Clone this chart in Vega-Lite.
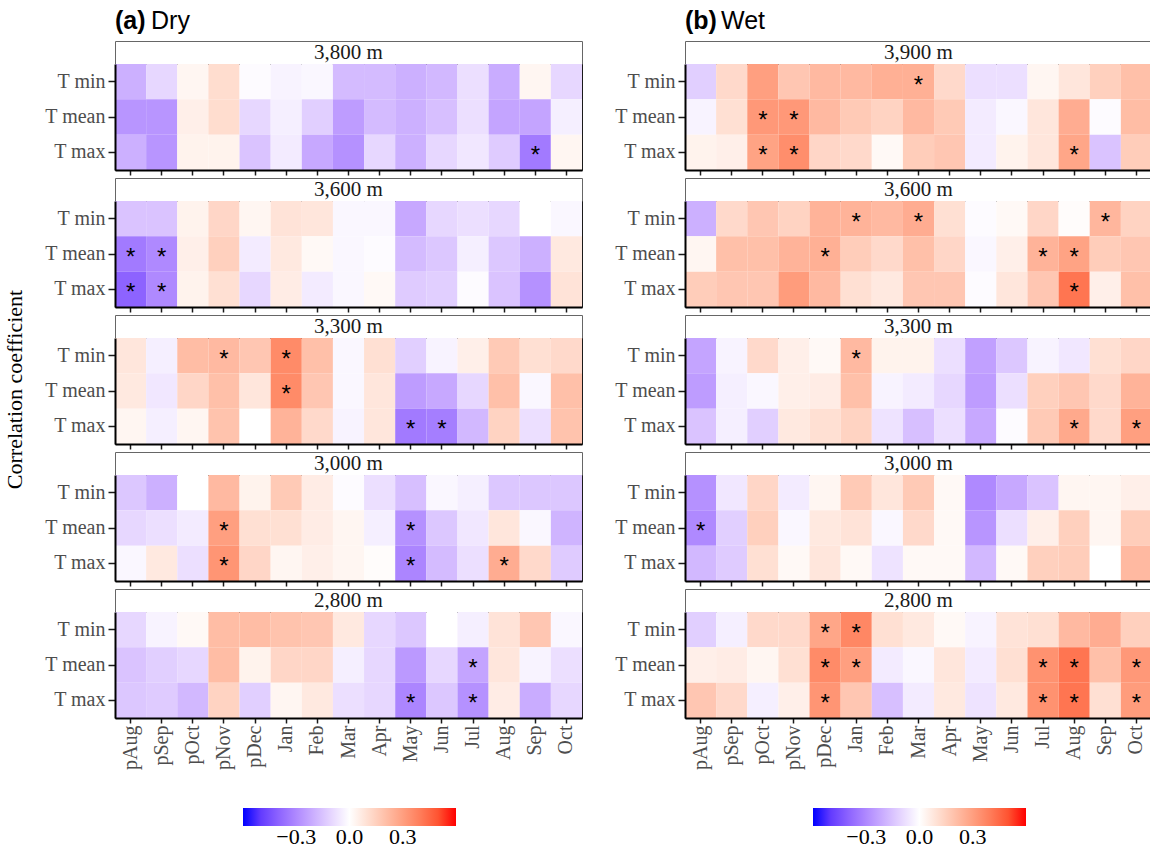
{
"$schema":"https://vega.github.io/schema/vega-lite/v6.json",
"padding":{"left":3,"top":8,"right":0,"bottom":0},
"background":"white",
"datasets":{
"strips":[
{"c":"Dry","e":"3,800 m"},{"c":"Dry","e":"3,600 m"},{"c":"Dry","e":"3,300 m"},{"c":"Dry","e":"3,000 m"},{"c":"Dry","e":"2,800 m"},
{"c":"Wet","e":"3,900 m"},{"c":"Wet","e":"3,600 m"},{"c":"Wet","e":"3,300 m"},{"c":"Wet","e":"3,000 m"},{"c":"Wet","e":"2,800 m"}],
"stars":[
{"c":"Dry","e":"3,800 m","v":"T max","m":"Sep"},
{"c":"Dry","e":"3,600 m","v":"T mean","m":"pAug"},{"c":"Dry","e":"3,600 m","v":"T mean","m":"pSep"},{"c":"Dry","e":"3,600 m","v":"T max","m":"pAug"},{"c":"Dry","e":"3,600 m","v":"T max","m":"pSep"},
{"c":"Dry","e":"3,300 m","v":"T min","m":"pNov"},{"c":"Dry","e":"3,300 m","v":"T min","m":"Jan"},{"c":"Dry","e":"3,300 m","v":"T mean","m":"Jan"},{"c":"Dry","e":"3,300 m","v":"T max","m":"May"},{"c":"Dry","e":"3,300 m","v":"T max","m":"Jun"},
{"c":"Dry","e":"3,000 m","v":"T mean","m":"pNov"},{"c":"Dry","e":"3,000 m","v":"T mean","m":"May"},{"c":"Dry","e":"3,000 m","v":"T max","m":"pNov"},{"c":"Dry","e":"3,000 m","v":"T max","m":"May"},{"c":"Dry","e":"3,000 m","v":"T max","m":"Aug"},
{"c":"Dry","e":"2,800 m","v":"T mean","m":"Jul"},{"c":"Dry","e":"2,800 m","v":"T max","m":"May"},{"c":"Dry","e":"2,800 m","v":"T max","m":"Jul"},
{"c":"Wet","e":"3,900 m","v":"T min","m":"Mar"},{"c":"Wet","e":"3,900 m","v":"T mean","m":"pOct"},{"c":"Wet","e":"3,900 m","v":"T mean","m":"pNov"},{"c":"Wet","e":"3,900 m","v":"T max","m":"pOct"},{"c":"Wet","e":"3,900 m","v":"T max","m":"pNov"},{"c":"Wet","e":"3,900 m","v":"T max","m":"Aug"},
{"c":"Wet","e":"3,600 m","v":"T min","m":"Jan"},{"c":"Wet","e":"3,600 m","v":"T min","m":"Mar"},{"c":"Wet","e":"3,600 m","v":"T min","m":"Sep"},{"c":"Wet","e":"3,600 m","v":"T mean","m":"pDec"},{"c":"Wet","e":"3,600 m","v":"T mean","m":"Jul"},{"c":"Wet","e":"3,600 m","v":"T mean","m":"Aug"},{"c":"Wet","e":"3,600 m","v":"T max","m":"Aug"},
{"c":"Wet","e":"3,300 m","v":"T min","m":"Jan"},{"c":"Wet","e":"3,300 m","v":"T max","m":"Aug"},{"c":"Wet","e":"3,300 m","v":"T max","m":"Oct"},
{"c":"Wet","e":"3,000 m","v":"T mean","m":"pAug"},
{"c":"Wet","e":"2,800 m","v":"T min","m":"pDec"},{"c":"Wet","e":"2,800 m","v":"T min","m":"Jan"},{"c":"Wet","e":"2,800 m","v":"T mean","m":"pDec"},{"c":"Wet","e":"2,800 m","v":"T mean","m":"Jan"},{"c":"Wet","e":"2,800 m","v":"T mean","m":"Jul"},{"c":"Wet","e":"2,800 m","v":"T mean","m":"Aug"},{"c":"Wet","e":"2,800 m","v":"T mean","m":"Oct"},{"c":"Wet","e":"2,800 m","v":"T max","m":"pDec"},{"c":"Wet","e":"2,800 m","v":"T max","m":"Jul"},{"c":"Wet","e":"2,800 m","v":"T max","m":"Aug"},{"c":"Wet","e":"2,800 m","v":"T max","m":"Oct"}],
"cells":[
{"c":"Dry","e":"3,800 m","v":"T min","m":"pAug","r":-0.20},{"c":"Dry","e":"3,800 m","v":"T min","m":"pSep","r":-0.10},{"c":"Dry","e":"3,800 m","v":"T min","m":"pOct","r":0.03},{"c":"Dry","e":"3,800 m","v":"T min","m":"pNov","r":0.11},{"c":"Dry","e":"3,800 m","v":"T min","m":"pDec","r":-0.01},{"c":"Dry","e":"3,800 m","v":"T min","m":"Jan","r":-0.03},{"c":"Dry","e":"3,800 m","v":"T min","m":"Feb","r":-0.02},{"c":"Dry","e":"3,800 m","v":"T min","m":"Mar","r":-0.17},{"c":"Dry","e":"3,800 m","v":"T min","m":"Apr","r":-0.17},{"c":"Dry","e":"3,800 m","v":"T min","m":"May","r":-0.20},{"c":"Dry","e":"3,800 m","v":"T min","m":"Jun","r":-0.18},{"c":"Dry","e":"3,800 m","v":"T min","m":"Jul","r":-0.08},{"c":"Dry","e":"3,800 m","v":"T min","m":"Aug","r":-0.21},{"c":"Dry","e":"3,800 m","v":"T min","m":"Sep","r":0.03},{"c":"Dry","e":"3,800 m","v":"T min","m":"Oct","r":-0.10},
{"c":"Dry","e":"3,800 m","v":"T mean","m":"pAug","r":-0.27},{"c":"Dry","e":"3,800 m","v":"T mean","m":"pSep","r":-0.27},{"c":"Dry","e":"3,800 m","v":"T mean","m":"pOct","r":0.05},{"c":"Dry","e":"3,800 m","v":"T mean","m":"pNov","r":0.11},{"c":"Dry","e":"3,800 m","v":"T mean","m":"pDec","r":-0.10},{"c":"Dry","e":"3,800 m","v":"T mean","m":"Jan","r":-0.04},{"c":"Dry","e":"3,800 m","v":"T mean","m":"Feb","r":-0.12},{"c":"Dry","e":"3,800 m","v":"T mean","m":"Mar","r":-0.25},{"c":"Dry","e":"3,800 m","v":"T mean","m":"Apr","r":-0.17},{"c":"Dry","e":"3,800 m","v":"T mean","m":"May","r":-0.20},{"c":"Dry","e":"3,800 m","v":"T mean","m":"Jun","r":-0.16},{"c":"Dry","e":"3,800 m","v":"T mean","m":"Jul","r":-0.08},{"c":"Dry","e":"3,800 m","v":"T mean","m":"Aug","r":-0.23},{"c":"Dry","e":"3,800 m","v":"T mean","m":"Sep","r":-0.23},{"c":"Dry","e":"3,800 m","v":"T mean","m":"Oct","r":-0.04},
{"c":"Dry","e":"3,800 m","v":"T max","m":"pAug","r":-0.20},{"c":"Dry","e":"3,800 m","v":"T max","m":"pSep","r":-0.27},{"c":"Dry","e":"3,800 m","v":"T max","m":"pOct","r":0.04},{"c":"Dry","e":"3,800 m","v":"T max","m":"pNov","r":0.04},{"c":"Dry","e":"3,800 m","v":"T max","m":"pDec","r":-0.15},{"c":"Dry","e":"3,800 m","v":"T max","m":"Jan","r":-0.05},{"c":"Dry","e":"3,800 m","v":"T max","m":"Feb","r":-0.22},{"c":"Dry","e":"3,800 m","v":"T max","m":"Mar","r":-0.28},{"c":"Dry","e":"3,800 m","v":"T max","m":"Apr","r":-0.10},{"c":"Dry","e":"3,800 m","v":"T max","m":"May","r":-0.20},{"c":"Dry","e":"3,800 m","v":"T max","m":"Jun","r":-0.10},{"c":"Dry","e":"3,800 m","v":"T max","m":"Jul","r":-0.06},{"c":"Dry","e":"3,800 m","v":"T max","m":"Aug","r":-0.13},{"c":"Dry","e":"3,800 m","v":"T max","m":"Sep","r":-0.34},{"c":"Dry","e":"3,800 m","v":"T max","m":"Oct","r":0.03},
{"c":"Dry","e":"3,600 m","v":"T min","m":"pAug","r":-0.15},{"c":"Dry","e":"3,600 m","v":"T min","m":"pSep","r":-0.15},{"c":"Dry","e":"3,600 m","v":"T min","m":"pOct","r":0.04},{"c":"Dry","e":"3,600 m","v":"T min","m":"pNov","r":0.13},{"c":"Dry","e":"3,600 m","v":"T min","m":"pDec","r":0.03},{"c":"Dry","e":"3,600 m","v":"T min","m":"Jan","r":0.09},{"c":"Dry","e":"3,600 m","v":"T min","m":"Feb","r":0.08},{"c":"Dry","e":"3,600 m","v":"T min","m":"Mar","r":-0.02},{"c":"Dry","e":"3,600 m","v":"T min","m":"Apr","r":-0.02},{"c":"Dry","e":"3,600 m","v":"T min","m":"May","r":-0.22},{"c":"Dry","e":"3,600 m","v":"T min","m":"Jun","r":-0.10},{"c":"Dry","e":"3,600 m","v":"T min","m":"Jul","r":-0.08},{"c":"Dry","e":"3,600 m","v":"T min","m":"Aug","r":-0.10},{"c":"Dry","e":"3,600 m","v":"T min","m":"Sep","r":0.00},{"c":"Dry","e":"3,600 m","v":"T min","m":"Oct","r":-0.02},
{"c":"Dry","e":"3,600 m","v":"T mean","m":"pAug","r":-0.34},{"c":"Dry","e":"3,600 m","v":"T mean","m":"pSep","r":-0.30},{"c":"Dry","e":"3,600 m","v":"T mean","m":"pOct","r":0.05},{"c":"Dry","e":"3,600 m","v":"T mean","m":"pNov","r":0.15},{"c":"Dry","e":"3,600 m","v":"T mean","m":"pDec","r":-0.05},{"c":"Dry","e":"3,600 m","v":"T mean","m":"Jan","r":0.07},{"c":"Dry","e":"3,600 m","v":"T mean","m":"Feb","r":0.02},{"c":"Dry","e":"3,600 m","v":"T mean","m":"Mar","r":-0.02},{"c":"Dry","e":"3,600 m","v":"T mean","m":"Apr","r":-0.01},{"c":"Dry","e":"3,600 m","v":"T mean","m":"May","r":-0.17},{"c":"Dry","e":"3,600 m","v":"T mean","m":"Jun","r":-0.14},{"c":"Dry","e":"3,600 m","v":"T mean","m":"Jul","r":-0.04},{"c":"Dry","e":"3,600 m","v":"T mean","m":"Aug","r":-0.14},{"c":"Dry","e":"3,600 m","v":"T mean","m":"Sep","r":-0.20},{"c":"Dry","e":"3,600 m","v":"T mean","m":"Oct","r":0.07},
{"c":"Dry","e":"3,600 m","v":"T max","m":"pAug","r":-0.40},{"c":"Dry","e":"3,600 m","v":"T max","m":"pSep","r":-0.30},{"c":"Dry","e":"3,600 m","v":"T max","m":"pOct","r":0.04},{"c":"Dry","e":"3,600 m","v":"T max","m":"pNov","r":0.10},{"c":"Dry","e":"3,600 m","v":"T max","m":"pDec","r":-0.10},{"c":"Dry","e":"3,600 m","v":"T max","m":"Jan","r":0.06},{"c":"Dry","e":"3,600 m","v":"T max","m":"Feb","r":-0.05},{"c":"Dry","e":"3,600 m","v":"T max","m":"Mar","r":-0.02},{"c":"Dry","e":"3,600 m","v":"T max","m":"Apr","r":0.02},{"c":"Dry","e":"3,600 m","v":"T max","m":"May","r":-0.13},{"c":"Dry","e":"3,600 m","v":"T max","m":"Jun","r":-0.12},{"c":"Dry","e":"3,600 m","v":"T max","m":"Jul","r":-0.01},{"c":"Dry","e":"3,600 m","v":"T max","m":"Aug","r":-0.15},{"c":"Dry","e":"3,600 m","v":"T max","m":"Sep","r":-0.28},{"c":"Dry","e":"3,600 m","v":"T max","m":"Oct","r":0.09},
{"c":"Dry","e":"3,300 m","v":"T min","m":"pAug","r":0.08},{"c":"Dry","e":"3,300 m","v":"T min","m":"pSep","r":-0.04},{"c":"Dry","e":"3,300 m","v":"T min","m":"pOct","r":0.21},{"c":"Dry","e":"3,300 m","v":"T min","m":"pNov","r":0.22},{"c":"Dry","e":"3,300 m","v":"T min","m":"pDec","r":0.18},{"c":"Dry","e":"3,300 m","v":"T min","m":"Jan","r":0.36},{"c":"Dry","e":"3,300 m","v":"T min","m":"Feb","r":0.20},{"c":"Dry","e":"3,300 m","v":"T min","m":"Mar","r":-0.02},{"c":"Dry","e":"3,300 m","v":"T min","m":"Apr","r":0.10},{"c":"Dry","e":"3,300 m","v":"T min","m":"May","r":-0.12},{"c":"Dry","e":"3,300 m","v":"T min","m":"Jun","r":-0.03},{"c":"Dry","e":"3,300 m","v":"T min","m":"Jul","r":0.05},{"c":"Dry","e":"3,300 m","v":"T min","m":"Aug","r":0.17},{"c":"Dry","e":"3,300 m","v":"T min","m":"Sep","r":0.10},{"c":"Dry","e":"3,300 m","v":"T min","m":"Oct","r":0.12},
{"c":"Dry","e":"3,300 m","v":"T mean","m":"pAug","r":0.07},{"c":"Dry","e":"3,300 m","v":"T mean","m":"pSep","r":-0.06},{"c":"Dry","e":"3,300 m","v":"T mean","m":"pOct","r":0.13},{"c":"Dry","e":"3,300 m","v":"T mean","m":"pNov","r":0.20},{"c":"Dry","e":"3,300 m","v":"T mean","m":"pDec","r":0.08},{"c":"Dry","e":"3,300 m","v":"T mean","m":"Jan","r":0.36},{"c":"Dry","e":"3,300 m","v":"T mean","m":"Feb","r":0.18},{"c":"Dry","e":"3,300 m","v":"T mean","m":"Mar","r":-0.02},{"c":"Dry","e":"3,300 m","v":"T mean","m":"Apr","r":0.08},{"c":"Dry","e":"3,300 m","v":"T mean","m":"May","r":-0.25},{"c":"Dry","e":"3,300 m","v":"T mean","m":"Jun","r":-0.22},{"c":"Dry","e":"3,300 m","v":"T mean","m":"Jul","r":-0.10},{"c":"Dry","e":"3,300 m","v":"T mean","m":"Aug","r":0.20},{"c":"Dry","e":"3,300 m","v":"T mean","m":"Sep","r":-0.02},{"c":"Dry","e":"3,300 m","v":"T mean","m":"Oct","r":0.20},
{"c":"Dry","e":"3,300 m","v":"T max","m":"pAug","r":0.03},{"c":"Dry","e":"3,300 m","v":"T max","m":"pSep","r":-0.04},{"c":"Dry","e":"3,300 m","v":"T max","m":"pOct","r":0.03},{"c":"Dry","e":"3,300 m","v":"T max","m":"pNov","r":0.19},{"c":"Dry","e":"3,300 m","v":"T max","m":"pDec","r":0.00},{"c":"Dry","e":"3,300 m","v":"T max","m":"Jan","r":0.24},{"c":"Dry","e":"3,300 m","v":"T max","m":"Feb","r":0.12},{"c":"Dry","e":"3,300 m","v":"T max","m":"Mar","r":-0.03},{"c":"Dry","e":"3,300 m","v":"T max","m":"Apr","r":0.08},{"c":"Dry","e":"3,300 m","v":"T max","m":"May","r":-0.34},{"c":"Dry","e":"3,300 m","v":"T max","m":"Jun","r":-0.33},{"c":"Dry","e":"3,300 m","v":"T max","m":"Jul","r":-0.18},{"c":"Dry","e":"3,300 m","v":"T max","m":"Aug","r":0.14},{"c":"Dry","e":"3,300 m","v":"T max","m":"Sep","r":-0.08},{"c":"Dry","e":"3,300 m","v":"T max","m":"Oct","r":0.19},
{"c":"Dry","e":"3,000 m","v":"T min","m":"pAug","r":-0.14},{"c":"Dry","e":"3,000 m","v":"T min","m":"pSep","r":-0.20},{"c":"Dry","e":"3,000 m","v":"T min","m":"pOct","r":0.00},{"c":"Dry","e":"3,000 m","v":"T min","m":"pNov","r":0.22},{"c":"Dry","e":"3,000 m","v":"T min","m":"pDec","r":0.04},{"c":"Dry","e":"3,000 m","v":"T min","m":"Jan","r":0.17},{"c":"Dry","e":"3,000 m","v":"T min","m":"Feb","r":0.06},{"c":"Dry","e":"3,000 m","v":"T min","m":"Mar","r":-0.01},{"c":"Dry","e":"3,000 m","v":"T min","m":"Apr","r":-0.08},{"c":"Dry","e":"3,000 m","v":"T min","m":"May","r":-0.16},{"c":"Dry","e":"3,000 m","v":"T min","m":"Jun","r":-0.02},{"c":"Dry","e":"3,000 m","v":"T min","m":"Jul","r":-0.04},{"c":"Dry","e":"3,000 m","v":"T min","m":"Aug","r":-0.14},{"c":"Dry","e":"3,000 m","v":"T min","m":"Sep","r":-0.14},{"c":"Dry","e":"3,000 m","v":"T min","m":"Oct","r":-0.14},
{"c":"Dry","e":"3,000 m","v":"T mean","m":"pAug","r":-0.10},{"c":"Dry","e":"3,000 m","v":"T mean","m":"pSep","r":-0.08},{"c":"Dry","e":"3,000 m","v":"T mean","m":"pOct","r":-0.05},{"c":"Dry","e":"3,000 m","v":"T mean","m":"pNov","r":0.30},{"c":"Dry","e":"3,000 m","v":"T mean","m":"pDec","r":0.10},{"c":"Dry","e":"3,000 m","v":"T mean","m":"Jan","r":0.10},{"c":"Dry","e":"3,000 m","v":"T mean","m":"Feb","r":0.06},{"c":"Dry","e":"3,000 m","v":"T mean","m":"Mar","r":0.03},{"c":"Dry","e":"3,000 m","v":"T mean","m":"Apr","r":-0.04},{"c":"Dry","e":"3,000 m","v":"T mean","m":"May","r":-0.28},{"c":"Dry","e":"3,000 m","v":"T mean","m":"Jun","r":-0.14},{"c":"Dry","e":"3,000 m","v":"T mean","m":"Jul","r":-0.06},{"c":"Dry","e":"3,000 m","v":"T mean","m":"Aug","r":0.08},{"c":"Dry","e":"3,000 m","v":"T mean","m":"Sep","r":-0.02},{"c":"Dry","e":"3,000 m","v":"T mean","m":"Oct","r":-0.19},
{"c":"Dry","e":"3,000 m","v":"T max","m":"pAug","r":-0.02},{"c":"Dry","e":"3,000 m","v":"T max","m":"pSep","r":0.07},{"c":"Dry","e":"3,000 m","v":"T max","m":"pOct","r":-0.08},{"c":"Dry","e":"3,000 m","v":"T max","m":"pNov","r":0.33},{"c":"Dry","e":"3,000 m","v":"T max","m":"pDec","r":0.13},{"c":"Dry","e":"3,000 m","v":"T max","m":"Jan","r":0.03},{"c":"Dry","e":"3,000 m","v":"T max","m":"Feb","r":0.05},{"c":"Dry","e":"3,000 m","v":"T max","m":"Mar","r":0.03},{"c":"Dry","e":"3,000 m","v":"T max","m":"Apr","r":0.01},{"c":"Dry","e":"3,000 m","v":"T max","m":"May","r":-0.31},{"c":"Dry","e":"3,000 m","v":"T max","m":"Jun","r":-0.17},{"c":"Dry","e":"3,000 m","v":"T max","m":"Jul","r":-0.08},{"c":"Dry","e":"3,000 m","v":"T max","m":"Aug","r":0.26},{"c":"Dry","e":"3,000 m","v":"T max","m":"Sep","r":0.12},{"c":"Dry","e":"3,000 m","v":"T max","m":"Oct","r":-0.13},
{"c":"Dry","e":"2,800 m","v":"T min","m":"pAug","r":-0.10},{"c":"Dry","e":"2,800 m","v":"T min","m":"pSep","r":-0.03},{"c":"Dry","e":"2,800 m","v":"T min","m":"pOct","r":0.02},{"c":"Dry","e":"2,800 m","v":"T min","m":"pNov","r":0.21},{"c":"Dry","e":"2,800 m","v":"T min","m":"pDec","r":0.21},{"c":"Dry","e":"2,800 m","v":"T min","m":"Jan","r":0.19},{"c":"Dry","e":"2,800 m","v":"T min","m":"Feb","r":0.18},{"c":"Dry","e":"2,800 m","v":"T min","m":"Mar","r":0.07},{"c":"Dry","e":"2,800 m","v":"T min","m":"Apr","r":-0.10},{"c":"Dry","e":"2,800 m","v":"T min","m":"May","r":-0.14},{"c":"Dry","e":"2,800 m","v":"T min","m":"Jun","r":0.00},{"c":"Dry","e":"2,800 m","v":"T min","m":"Jul","r":-0.04},{"c":"Dry","e":"2,800 m","v":"T min","m":"Aug","r":0.09},{"c":"Dry","e":"2,800 m","v":"T min","m":"Sep","r":0.18},{"c":"Dry","e":"2,800 m","v":"T min","m":"Oct","r":-0.02},
{"c":"Dry","e":"2,800 m","v":"T mean","m":"pAug","r":-0.15},{"c":"Dry","e":"2,800 m","v":"T mean","m":"pSep","r":-0.12},{"c":"Dry","e":"2,800 m","v":"T mean","m":"pOct","r":-0.10},{"c":"Dry","e":"2,800 m","v":"T mean","m":"pNov","r":0.21},{"c":"Dry","e":"2,800 m","v":"T mean","m":"pDec","r":0.04},{"c":"Dry","e":"2,800 m","v":"T mean","m":"Jan","r":0.13},{"c":"Dry","e":"2,800 m","v":"T mean","m":"Feb","r":0.13},{"c":"Dry","e":"2,800 m","v":"T mean","m":"Mar","r":-0.04},{"c":"Dry","e":"2,800 m","v":"T mean","m":"Apr","r":-0.10},{"c":"Dry","e":"2,800 m","v":"T mean","m":"May","r":-0.26},{"c":"Dry","e":"2,800 m","v":"T mean","m":"Jun","r":-0.10},{"c":"Dry","e":"2,800 m","v":"T mean","m":"Jul","r":-0.23},{"c":"Dry","e":"2,800 m","v":"T mean","m":"Aug","r":0.08},{"c":"Dry","e":"2,800 m","v":"T mean","m":"Sep","r":-0.03},{"c":"Dry","e":"2,800 m","v":"T mean","m":"Oct","r":-0.08},
{"c":"Dry","e":"2,800 m","v":"T max","m":"pAug","r":-0.14},{"c":"Dry","e":"2,800 m","v":"T max","m":"pSep","r":-0.13},{"c":"Dry","e":"2,800 m","v":"T max","m":"pOct","r":-0.18},{"c":"Dry","e":"2,800 m","v":"T max","m":"pNov","r":0.14},{"c":"Dry","e":"2,800 m","v":"T max","m":"pDec","r":-0.12},{"c":"Dry","e":"2,800 m","v":"T max","m":"Jan","r":0.03},{"c":"Dry","e":"2,800 m","v":"T max","m":"Feb","r":0.07},{"c":"Dry","e":"2,800 m","v":"T max","m":"Mar","r":-0.08},{"c":"Dry","e":"2,800 m","v":"T max","m":"Apr","r":-0.10},{"c":"Dry","e":"2,800 m","v":"T max","m":"May","r":-0.31},{"c":"Dry","e":"2,800 m","v":"T max","m":"Jun","r":-0.14},{"c":"Dry","e":"2,800 m","v":"T max","m":"Jul","r":-0.28},{"c":"Dry","e":"2,800 m","v":"T max","m":"Aug","r":0.06},{"c":"Dry","e":"2,800 m","v":"T max","m":"Sep","r":-0.21},{"c":"Dry","e":"2,800 m","v":"T max","m":"Oct","r":-0.10},
{"c":"Wet","e":"3,900 m","v":"T min","m":"pAug","r":-0.12},{"c":"Wet","e":"3,900 m","v":"T min","m":"pSep","r":0.12},{"c":"Wet","e":"3,900 m","v":"T min","m":"pOct","r":0.30},{"c":"Wet","e":"3,900 m","v":"T min","m":"pNov","r":0.18},{"c":"Wet","e":"3,900 m","v":"T min","m":"pDec","r":0.22},{"c":"Wet","e":"3,900 m","v":"T min","m":"Jan","r":0.22},{"c":"Wet","e":"3,900 m","v":"T min","m":"Feb","r":0.25},{"c":"Wet","e":"3,900 m","v":"T min","m":"Mar","r":0.25},{"c":"Wet","e":"3,900 m","v":"T min","m":"Apr","r":0.12},{"c":"Wet","e":"3,900 m","v":"T min","m":"May","r":-0.08},{"c":"Wet","e":"3,900 m","v":"T min","m":"Jun","r":-0.08},{"c":"Wet","e":"3,900 m","v":"T min","m":"Jul","r":0.03},{"c":"Wet","e":"3,900 m","v":"T min","m":"Aug","r":0.08},{"c":"Wet","e":"3,900 m","v":"T min","m":"Sep","r":0.15},{"c":"Wet","e":"3,900 m","v":"T min","m":"Oct","r":0.20},
{"c":"Wet","e":"3,900 m","v":"T mean","m":"pAug","r":-0.03},{"c":"Wet","e":"3,900 m","v":"T mean","m":"pSep","r":0.10},{"c":"Wet","e":"3,900 m","v":"T mean","m":"pOct","r":0.32},{"c":"Wet","e":"3,900 m","v":"T mean","m":"pNov","r":0.32},{"c":"Wet","e":"3,900 m","v":"T mean","m":"pDec","r":0.22},{"c":"Wet","e":"3,900 m","v":"T mean","m":"Jan","r":0.17},{"c":"Wet","e":"3,900 m","v":"T mean","m":"Feb","r":0.14},{"c":"Wet","e":"3,900 m","v":"T mean","m":"Mar","r":0.22},{"c":"Wet","e":"3,900 m","v":"T mean","m":"Apr","r":0.17},{"c":"Wet","e":"3,900 m","v":"T mean","m":"May","r":-0.05},{"c":"Wet","e":"3,900 m","v":"T mean","m":"Jun","r":-0.02},{"c":"Wet","e":"3,900 m","v":"T mean","m":"Jul","r":0.08},{"c":"Wet","e":"3,900 m","v":"T mean","m":"Aug","r":0.26},{"c":"Wet","e":"3,900 m","v":"T mean","m":"Sep","r":-0.01},{"c":"Wet","e":"3,900 m","v":"T mean","m":"Oct","r":0.21},
{"c":"Wet","e":"3,900 m","v":"T max","m":"pAug","r":0.04},{"c":"Wet","e":"3,900 m","v":"T max","m":"pSep","r":0.05},{"c":"Wet","e":"3,900 m","v":"T max","m":"pOct","r":0.29},{"c":"Wet","e":"3,900 m","v":"T max","m":"pNov","r":0.35},{"c":"Wet","e":"3,900 m","v":"T max","m":"pDec","r":0.13},{"c":"Wet","e":"3,900 m","v":"T max","m":"Jan","r":0.12},{"c":"Wet","e":"3,900 m","v":"T max","m":"Feb","r":0.02},{"c":"Wet","e":"3,900 m","v":"T max","m":"Mar","r":0.16},{"c":"Wet","e":"3,900 m","v":"T max","m":"Apr","r":0.18},{"c":"Wet","e":"3,900 m","v":"T max","m":"May","r":-0.05},{"c":"Wet","e":"3,900 m","v":"T max","m":"Jun","r":0.04},{"c":"Wet","e":"3,900 m","v":"T max","m":"Jul","r":0.08},{"c":"Wet","e":"3,900 m","v":"T max","m":"Aug","r":0.28},{"c":"Wet","e":"3,900 m","v":"T max","m":"Sep","r":-0.15},{"c":"Wet","e":"3,900 m","v":"T max","m":"Oct","r":0.16},
{"c":"Wet","e":"3,600 m","v":"T min","m":"pAug","r":-0.20},{"c":"Wet","e":"3,600 m","v":"T min","m":"pSep","r":0.12},{"c":"Wet","e":"3,600 m","v":"T min","m":"pOct","r":0.18},{"c":"Wet","e":"3,600 m","v":"T min","m":"pNov","r":0.14},{"c":"Wet","e":"3,600 m","v":"T min","m":"pDec","r":0.24},{"c":"Wet","e":"3,600 m","v":"T min","m":"Jan","r":0.24},{"c":"Wet","e":"3,600 m","v":"T min","m":"Feb","r":0.22},{"c":"Wet","e":"3,600 m","v":"T min","m":"Mar","r":0.26},{"c":"Wet","e":"3,600 m","v":"T min","m":"Apr","r":0.10},{"c":"Wet","e":"3,600 m","v":"T min","m":"May","r":-0.01},{"c":"Wet","e":"3,600 m","v":"T min","m":"Jun","r":0.02},{"c":"Wet","e":"3,600 m","v":"T min","m":"Jul","r":0.13},{"c":"Wet","e":"3,600 m","v":"T min","m":"Aug","r":0.01},{"c":"Wet","e":"3,600 m","v":"T min","m":"Sep","r":0.23},{"c":"Wet","e":"3,600 m","v":"T min","m":"Oct","r":0.14},
{"c":"Wet","e":"3,600 m","v":"T mean","m":"pAug","r":0.03},{"c":"Wet","e":"3,600 m","v":"T mean","m":"pSep","r":0.20},{"c":"Wet","e":"3,600 m","v":"T mean","m":"pOct","r":0.20},{"c":"Wet","e":"3,600 m","v":"T mean","m":"pNov","r":0.24},{"c":"Wet","e":"3,600 m","v":"T mean","m":"pDec","r":0.25},{"c":"Wet","e":"3,600 m","v":"T mean","m":"Jan","r":0.16},{"c":"Wet","e":"3,600 m","v":"T mean","m":"Feb","r":0.12},{"c":"Wet","e":"3,600 m","v":"T mean","m":"Mar","r":0.20},{"c":"Wet","e":"3,600 m","v":"T mean","m":"Apr","r":0.13},{"c":"Wet","e":"3,600 m","v":"T mean","m":"May","r":-0.02},{"c":"Wet","e":"3,600 m","v":"T mean","m":"Jun","r":0.05},{"c":"Wet","e":"3,600 m","v":"T mean","m":"Jul","r":0.24},{"c":"Wet","e":"3,600 m","v":"T mean","m":"Aug","r":0.29},{"c":"Wet","e":"3,600 m","v":"T mean","m":"Sep","r":0.16},{"c":"Wet","e":"3,600 m","v":"T mean","m":"Oct","r":0.18},
{"c":"Wet","e":"3,600 m","v":"T max","m":"pAug","r":0.16},{"c":"Wet","e":"3,600 m","v":"T max","m":"pSep","r":0.18},{"c":"Wet","e":"3,600 m","v":"T max","m":"pOct","r":0.18},{"c":"Wet","e":"3,600 m","v":"T max","m":"pNov","r":0.31},{"c":"Wet","e":"3,600 m","v":"T max","m":"pDec","r":0.22},{"c":"Wet","e":"3,600 m","v":"T max","m":"Jan","r":0.10},{"c":"Wet","e":"3,600 m","v":"T max","m":"Feb","r":0.07},{"c":"Wet","e":"3,600 m","v":"T max","m":"Mar","r":0.18},{"c":"Wet","e":"3,600 m","v":"T max","m":"Apr","r":0.18},{"c":"Wet","e":"3,600 m","v":"T max","m":"May","r":-0.01},{"c":"Wet","e":"3,600 m","v":"T max","m":"Jun","r":0.08},{"c":"Wet","e":"3,600 m","v":"T max","m":"Jul","r":0.18},{"c":"Wet","e":"3,600 m","v":"T max","m":"Aug","r":0.42},{"c":"Wet","e":"3,600 m","v":"T max","m":"Sep","r":0.05},{"c":"Wet","e":"3,600 m","v":"T max","m":"Oct","r":0.20},
{"c":"Wet","e":"3,300 m","v":"T min","m":"pAug","r":-0.23},{"c":"Wet","e":"3,300 m","v":"T min","m":"pSep","r":-0.03},{"c":"Wet","e":"3,300 m","v":"T min","m":"pOct","r":0.12},{"c":"Wet","e":"3,300 m","v":"T min","m":"pNov","r":0.05},{"c":"Wet","e":"3,300 m","v":"T min","m":"pDec","r":0.02},{"c":"Wet","e":"3,300 m","v":"T min","m":"Jan","r":0.22},{"c":"Wet","e":"3,300 m","v":"T min","m":"Feb","r":0.04},{"c":"Wet","e":"3,300 m","v":"T min","m":"Mar","r":0.04},{"c":"Wet","e":"3,300 m","v":"T min","m":"Apr","r":-0.08},{"c":"Wet","e":"3,300 m","v":"T min","m":"May","r":-0.24},{"c":"Wet","e":"3,300 m","v":"T min","m":"Jun","r":-0.14},{"c":"Wet","e":"3,300 m","v":"T min","m":"Jul","r":-0.03},{"c":"Wet","e":"3,300 m","v":"T min","m":"Aug","r":-0.06},{"c":"Wet","e":"3,300 m","v":"T min","m":"Sep","r":0.10},{"c":"Wet","e":"3,300 m","v":"T min","m":"Oct","r":0.13},
{"c":"Wet","e":"3,300 m","v":"T mean","m":"pAug","r":-0.25},{"c":"Wet","e":"3,300 m","v":"T mean","m":"pSep","r":-0.04},{"c":"Wet","e":"3,300 m","v":"T mean","m":"pOct","r":-0.02},{"c":"Wet","e":"3,300 m","v":"T mean","m":"pNov","r":0.05},{"c":"Wet","e":"3,300 m","v":"T mean","m":"pDec","r":0.06},{"c":"Wet","e":"3,300 m","v":"T mean","m":"Jan","r":0.20},{"c":"Wet","e":"3,300 m","v":"T mean","m":"Feb","r":-0.03},{"c":"Wet","e":"3,300 m","v":"T mean","m":"Mar","r":-0.05},{"c":"Wet","e":"3,300 m","v":"T mean","m":"Apr","r":-0.10},{"c":"Wet","e":"3,300 m","v":"T mean","m":"May","r":-0.25},{"c":"Wet","e":"3,300 m","v":"T mean","m":"Jun","r":-0.08},{"c":"Wet","e":"3,300 m","v":"T mean","m":"Jul","r":0.15},{"c":"Wet","e":"3,300 m","v":"T mean","m":"Aug","r":0.18},{"c":"Wet","e":"3,300 m","v":"T mean","m":"Sep","r":0.12},{"c":"Wet","e":"3,300 m","v":"T mean","m":"Oct","r":0.24},
{"c":"Wet","e":"3,300 m","v":"T max","m":"pAug","r":-0.15},{"c":"Wet","e":"3,300 m","v":"T max","m":"pSep","r":-0.04},{"c":"Wet","e":"3,300 m","v":"T max","m":"pOct","r":-0.12},{"c":"Wet","e":"3,300 m","v":"T max","m":"pNov","r":0.07},{"c":"Wet","e":"3,300 m","v":"T max","m":"pDec","r":0.10},{"c":"Wet","e":"3,300 m","v":"T max","m":"Jan","r":0.14},{"c":"Wet","e":"3,300 m","v":"T max","m":"Feb","r":-0.07},{"c":"Wet","e":"3,300 m","v":"T max","m":"Mar","r":-0.16},{"c":"Wet","e":"3,300 m","v":"T max","m":"Apr","r":-0.08},{"c":"Wet","e":"3,300 m","v":"T max","m":"May","r":-0.22},{"c":"Wet","e":"3,300 m","v":"T max","m":"Jun","r":-0.01},{"c":"Wet","e":"3,300 m","v":"T max","m":"Jul","r":0.17},{"c":"Wet","e":"3,300 m","v":"T max","m":"Aug","r":0.27},{"c":"Wet","e":"3,300 m","v":"T max","m":"Sep","r":0.12},{"c":"Wet","e":"3,300 m","v":"T max","m":"Oct","r":0.30},
{"c":"Wet","e":"3,000 m","v":"T min","m":"pAug","r":-0.28},{"c":"Wet","e":"3,000 m","v":"T min","m":"pSep","r":-0.06},{"c":"Wet","e":"3,000 m","v":"T min","m":"pOct","r":0.13},{"c":"Wet","e":"3,000 m","v":"T min","m":"pNov","r":-0.05},{"c":"Wet","e":"3,000 m","v":"T min","m":"pDec","r":0.03},{"c":"Wet","e":"3,000 m","v":"T min","m":"Jan","r":0.17},{"c":"Wet","e":"3,000 m","v":"T min","m":"Feb","r":0.08},{"c":"Wet","e":"3,000 m","v":"T min","m":"Mar","r":0.17},{"c":"Wet","e":"3,000 m","v":"T min","m":"Apr","r":0.02},{"c":"Wet","e":"3,000 m","v":"T min","m":"May","r":-0.30},{"c":"Wet","e":"3,000 m","v":"T min","m":"Jun","r":-0.22},{"c":"Wet","e":"3,000 m","v":"T min","m":"Jul","r":-0.15},{"c":"Wet","e":"3,000 m","v":"T min","m":"Aug","r":0.03},{"c":"Wet","e":"3,000 m","v":"T min","m":"Sep","r":0.03},{"c":"Wet","e":"3,000 m","v":"T min","m":"Oct","r":0.05},
{"c":"Wet","e":"3,000 m","v":"T mean","m":"pAug","r":-0.30},{"c":"Wet","e":"3,000 m","v":"T mean","m":"pSep","r":-0.12},{"c":"Wet","e":"3,000 m","v":"T mean","m":"pOct","r":0.15},{"c":"Wet","e":"3,000 m","v":"T mean","m":"pNov","r":-0.02},{"c":"Wet","e":"3,000 m","v":"T mean","m":"pDec","r":0.07},{"c":"Wet","e":"3,000 m","v":"T mean","m":"Jan","r":0.09},{"c":"Wet","e":"3,000 m","v":"T mean","m":"Feb","r":-0.02},{"c":"Wet","e":"3,000 m","v":"T mean","m":"Mar","r":0.12},{"c":"Wet","e":"3,000 m","v":"T mean","m":"Apr","r":0.02},{"c":"Wet","e":"3,000 m","v":"T mean","m":"May","r":-0.27},{"c":"Wet","e":"3,000 m","v":"T mean","m":"Jun","r":-0.08},{"c":"Wet","e":"3,000 m","v":"T mean","m":"Jul","r":0.05},{"c":"Wet","e":"3,000 m","v":"T mean","m":"Aug","r":0.15},{"c":"Wet","e":"3,000 m","v":"T mean","m":"Sep","r":0.03},{"c":"Wet","e":"3,000 m","v":"T mean","m":"Oct","r":0.16},
{"c":"Wet","e":"3,000 m","v":"T max","m":"pAug","r":-0.18},{"c":"Wet","e":"3,000 m","v":"T max","m":"pSep","r":-0.13},{"c":"Wet","e":"3,000 m","v":"T max","m":"pOct","r":0.10},{"c":"Wet","e":"3,000 m","v":"T max","m":"pNov","r":0.02},{"c":"Wet","e":"3,000 m","v":"T max","m":"pDec","r":0.08},{"c":"Wet","e":"3,000 m","v":"T max","m":"Jan","r":0.02},{"c":"Wet","e":"3,000 m","v":"T max","m":"Feb","r":-0.07},{"c":"Wet","e":"3,000 m","v":"T max","m":"Mar","r":0.02},{"c":"Wet","e":"3,000 m","v":"T max","m":"Apr","r":0.02},{"c":"Wet","e":"3,000 m","v":"T max","m":"May","r":-0.18},{"c":"Wet","e":"3,000 m","v":"T max","m":"Jun","r":0.02},{"c":"Wet","e":"3,000 m","v":"T max","m":"Jul","r":0.15},{"c":"Wet","e":"3,000 m","v":"T max","m":"Aug","r":0.16},{"c":"Wet","e":"3,000 m","v":"T max","m":"Sep","r":0.00},{"c":"Wet","e":"3,000 m","v":"T max","m":"Oct","r":0.22},
{"c":"Wet","e":"2,800 m","v":"T min","m":"pAug","r":-0.12},{"c":"Wet","e":"2,800 m","v":"T min","m":"pSep","r":-0.04},{"c":"Wet","e":"2,800 m","v":"T min","m":"pOct","r":0.12},{"c":"Wet","e":"2,800 m","v":"T min","m":"pNov","r":0.12},{"c":"Wet","e":"2,800 m","v":"T min","m":"pDec","r":0.28},{"c":"Wet","e":"2,800 m","v":"T min","m":"Jan","r":0.37},{"c":"Wet","e":"2,800 m","v":"T min","m":"Feb","r":0.10},{"c":"Wet","e":"2,800 m","v":"T min","m":"Mar","r":0.07},{"c":"Wet","e":"2,800 m","v":"T min","m":"Apr","r":0.02},{"c":"Wet","e":"2,800 m","v":"T min","m":"May","r":-0.03},{"c":"Wet","e":"2,800 m","v":"T min","m":"Jun","r":0.09},{"c":"Wet","e":"2,800 m","v":"T min","m":"Jul","r":0.10},{"c":"Wet","e":"2,800 m","v":"T min","m":"Aug","r":0.22},{"c":"Wet","e":"2,800 m","v":"T min","m":"Sep","r":0.26},{"c":"Wet","e":"2,800 m","v":"T min","m":"Oct","r":0.15},
{"c":"Wet","e":"2,800 m","v":"T mean","m":"pAug","r":0.05},{"c":"Wet","e":"2,800 m","v":"T mean","m":"pSep","r":0.06},{"c":"Wet","e":"2,800 m","v":"T mean","m":"pOct","r":0.03},{"c":"Wet","e":"2,800 m","v":"T mean","m":"pNov","r":0.10},{"c":"Wet","e":"2,800 m","v":"T mean","m":"pDec","r":0.36},{"c":"Wet","e":"2,800 m","v":"T mean","m":"Jan","r":0.30},{"c":"Wet","e":"2,800 m","v":"T mean","m":"Feb","r":-0.05},{"c":"Wet","e":"2,800 m","v":"T mean","m":"Mar","r":-0.02},{"c":"Wet","e":"2,800 m","v":"T mean","m":"Apr","r":0.08},{"c":"Wet","e":"2,800 m","v":"T mean","m":"May","r":-0.05},{"c":"Wet","e":"2,800 m","v":"T mean","m":"Jun","r":0.10},{"c":"Wet","e":"2,800 m","v":"T mean","m":"Jul","r":0.34},{"c":"Wet","e":"2,800 m","v":"T mean","m":"Aug","r":0.42},{"c":"Wet","e":"2,800 m","v":"T mean","m":"Sep","r":0.20},{"c":"Wet","e":"2,800 m","v":"T mean","m":"Oct","r":0.32},
{"c":"Wet","e":"2,800 m","v":"T max","m":"pAug","r":0.18},{"c":"Wet","e":"2,800 m","v":"T max","m":"pSep","r":0.12},{"c":"Wet","e":"2,800 m","v":"T max","m":"pOct","r":-0.04},{"c":"Wet","e":"2,800 m","v":"T max","m":"pNov","r":0.05},{"c":"Wet","e":"2,800 m","v":"T max","m":"pDec","r":0.33},{"c":"Wet","e":"2,800 m","v":"T max","m":"Jan","r":0.18},{"c":"Wet","e":"2,800 m","v":"T max","m":"Feb","r":-0.16},{"c":"Wet","e":"2,800 m","v":"T max","m":"Mar","r":-0.05},{"c":"Wet","e":"2,800 m","v":"T max","m":"Apr","r":0.07},{"c":"Wet","e":"2,800 m","v":"T max","m":"May","r":-0.07},{"c":"Wet","e":"2,800 m","v":"T max","m":"Jun","r":0.07},{"c":"Wet","e":"2,800 m","v":"T max","m":"Jul","r":0.34},{"c":"Wet","e":"2,800 m","v":"T max","m":"Aug","r":0.42},{"c":"Wet","e":"2,800 m","v":"T max","m":"Sep","r":0.10},{"c":"Wet","e":"2,800 m","v":"T max","m":"Oct","r":0.31}
]},
"hconcat":[
{"vconcat":[
 {"vconcat":[
  {"width":467,"height":23,"data":{"name":"strips"},"transform":[{"filter":"datum.c==='Dry'&&datum.e==='3,800 m'"}],"mark":{"type":"text","font":"Liberation Serif","fontSize":21,"color":"#1a1a1a"},"encoding":{"text":{"field":"e"}},"view":{"stroke":"#666","fill":"white"},
   "title":{"text":"Dry","anchor":"start","frame":"group","dx":36,"fontWeight":"normal","offset":7}},
  {"width":467,"height":106,
   "encoding":{"x":{"field":"m","type":"nominal","scale":{"domain":["pAug","pSep","pOct","pNov","pDec","Jan","Feb","Mar","Apr","May","Jun","Jul","Aug","Sep","Oct"]},"title":null,"axis":{"labels":false}},"y":{"field":"v","type":"nominal","scale":{"domain":["T min","T mean","T max"]},"title":null}},
   "layer":[
    {"data":{"name":"cells"},"transform":[{"filter":"datum.c==='Dry'&&datum.e==='3,800 m'"}],"mark":"rect","encoding":{"color":{"field":"r","type":"quantitative","scale":{"domain":[-0.6,0,0.6],"range":["#0000ff","#ffffff","#ff0000"],"interpolate":"lab"},"legend":null}}},
    {"data":{"name":"stars"},"transform":[{"filter":"datum.c==='Dry'&&datum.e==='3,800 m'"}],"mark":{"type":"text","text":"*","font":"Liberation Sans","fontSize":24,"color":"#000","dy":4}}]}
 ],"spacing":0,"bounds":"flush","resolve":{"scale":{"color":"independent"}},
 "title":{"text":"(a)","anchor":"start","frame":"group","fontWeight":"bold","offset":0,"dy":25}},
 {"vconcat":[
  {"width":467,"height":23,"data":{"name":"strips"},"transform":[{"filter":"datum.c==='Dry'&&datum.e==='3,600 m'"}],"mark":{"type":"text","font":"Liberation Serif","fontSize":21,"color":"#1a1a1a"},"encoding":{"text":{"field":"e"}},"view":{"stroke":"#666","fill":"white"}},
  {"width":467,"height":106,
   "encoding":{"x":{"field":"m","type":"nominal","scale":{"domain":["pAug","pSep","pOct","pNov","pDec","Jan","Feb","Mar","Apr","May","Jun","Jul","Aug","Sep","Oct"]},"title":null,"axis":{"labels":false}},"y":{"field":"v","type":"nominal","scale":{"domain":["T min","T mean","T max"]},"title":null}},
   "layer":[
    {"data":{"name":"cells"},"transform":[{"filter":"datum.c==='Dry'&&datum.e==='3,600 m'"}],"mark":"rect","encoding":{"color":{"field":"r","type":"quantitative","scale":{"domain":[-0.6,0,0.6],"range":["#0000ff","#ffffff","#ff0000"],"interpolate":"lab"},"legend":null}}},
    {"data":{"name":"stars"},"transform":[{"filter":"datum.c==='Dry'&&datum.e==='3,600 m'"}],"mark":{"type":"text","text":"*","font":"Liberation Sans","fontSize":24,"color":"#000","dy":4}}]}
 ],"spacing":0,"bounds":"flush","resolve":{"scale":{"color":"independent"}}},
 {"vconcat":[
  {"width":467,"height":23,"data":{"name":"strips"},"transform":[{"filter":"datum.c==='Dry'&&datum.e==='3,300 m'"}],"mark":{"type":"text","font":"Liberation Serif","fontSize":21,"color":"#1a1a1a"},"encoding":{"text":{"field":"e"}},"view":{"stroke":"#666","fill":"white"}},
  {"width":467,"height":106,
   "encoding":{"x":{"field":"m","type":"nominal","scale":{"domain":["pAug","pSep","pOct","pNov","pDec","Jan","Feb","Mar","Apr","May","Jun","Jul","Aug","Sep","Oct"]},"title":null,"axis":{"labels":false}},"y":{"field":"v","type":"nominal","scale":{"domain":["T min","T mean","T max"]},"title":null}},
   "layer":[
    {"data":{"name":"cells"},"transform":[{"filter":"datum.c==='Dry'&&datum.e==='3,300 m'"}],"mark":"rect","encoding":{"color":{"field":"r","type":"quantitative","scale":{"domain":[-0.6,0,0.6],"range":["#0000ff","#ffffff","#ff0000"],"interpolate":"lab"},"legend":null}}},
    {"data":{"name":"stars"},"transform":[{"filter":"datum.c==='Dry'&&datum.e==='3,300 m'"}],"mark":{"type":"text","text":"*","font":"Liberation Sans","fontSize":24,"color":"#000","dy":4}}]}
 ],"spacing":0,"bounds":"flush","resolve":{"scale":{"color":"independent"}}},
 {"vconcat":[
  {"width":467,"height":23,"data":{"name":"strips"},"transform":[{"filter":"datum.c==='Dry'&&datum.e==='3,000 m'"}],"mark":{"type":"text","font":"Liberation Serif","fontSize":21,"color":"#1a1a1a"},"encoding":{"text":{"field":"e"}},"view":{"stroke":"#666","fill":"white"}},
  {"width":467,"height":106,
   "encoding":{"x":{"field":"m","type":"nominal","scale":{"domain":["pAug","pSep","pOct","pNov","pDec","Jan","Feb","Mar","Apr","May","Jun","Jul","Aug","Sep","Oct"]},"title":null,"axis":{"labels":false}},"y":{"field":"v","type":"nominal","scale":{"domain":["T min","T mean","T max"]},"title":null}},
   "layer":[
    {"data":{"name":"cells"},"transform":[{"filter":"datum.c==='Dry'&&datum.e==='3,000 m'"}],"mark":"rect","encoding":{"color":{"field":"r","type":"quantitative","scale":{"domain":[-0.6,0,0.6],"range":["#0000ff","#ffffff","#ff0000"],"interpolate":"lab"},"legend":null}}},
    {"data":{"name":"stars"},"transform":[{"filter":"datum.c==='Dry'&&datum.e==='3,000 m'"}],"mark":{"type":"text","text":"*","font":"Liberation Sans","fontSize":24,"color":"#000","dy":4}}]}
 ],"spacing":0,"bounds":"flush","resolve":{"scale":{"color":"independent"}}},
 {"vconcat":[
  {"width":467,"height":23,"data":{"name":"strips"},"transform":[{"filter":"datum.c==='Dry'&&datum.e==='2,800 m'"}],"mark":{"type":"text","font":"Liberation Serif","fontSize":21,"color":"#1a1a1a"},"encoding":{"text":{"field":"e"}},"view":{"stroke":"#666","fill":"white"}},
  {"width":467,"height":106,
   "encoding":{"x":{"field":"m","type":"nominal","scale":{"domain":["pAug","pSep","pOct","pNov","pDec","Jan","Feb","Mar","Apr","May","Jun","Jul","Aug","Sep","Oct"]},"title":null,"axis":{"labelAngle":-90}},"y":{"field":"v","type":"nominal","scale":{"domain":["T min","T mean","T max"]},"title":null}},
   "layer":[
    {"data":{"name":"cells"},"transform":[{"filter":"datum.c==='Dry'&&datum.e==='2,800 m'"}],"mark":"rect","encoding":{"color":{"field":"r","type":"quantitative","scale":{"domain":[-0.6,0,0.6],"range":["#0000ff","#ffffff","#ff0000"],"interpolate":"lab"},"legend":{"orient":"none","legendX":128,"legendY":196,"direction":"horizontal","gradientLength":213,"gradientThickness":18,"title":null,"values":[-0.3,0,0.3],"format":".1f","labelFont":"Liberation Serif","labelFontSize":22,"labelColor":"#000","labelOffset":1,"gradientStrokeWidth":0}}}},
    {"data":{"name":"stars"},"transform":[{"filter":"datum.c==='Dry'&&datum.e==='2,800 m'"}],"mark":{"type":"text","text":"*","font":"Liberation Sans","fontSize":24,"color":"#000","dy":4}}]}
 ],"spacing":0,"bounds":"flush","resolve":{"scale":{"color":"independent"}}}
],"spacing":0,"resolve":{"scale":{"color":"independent"}},
"title":{"text":"Correlation coefficient","orient":"left","anchor":"middle","font":"Liberation Serif","fontSize":22,"fontWeight":"normal","offset":17,"dx":39}},
{"vconcat":[
 {"vconcat":[
  {"width":467,"height":23,"data":{"name":"strips"},"transform":[{"filter":"datum.c==='Wet'&&datum.e==='3,900 m'"}],"mark":{"type":"text","font":"Liberation Serif","fontSize":21,"color":"#1a1a1a"},"encoding":{"text":{"field":"e"}},"view":{"stroke":"#666","fill":"white"},
   "title":{"text":"Wet","anchor":"start","frame":"group","dx":36,"fontWeight":"normal","offset":7}},
  {"width":467,"height":106,
   "encoding":{"x":{"field":"m","type":"nominal","scale":{"domain":["pAug","pSep","pOct","pNov","pDec","Jan","Feb","Mar","Apr","May","Jun","Jul","Aug","Sep","Oct"]},"title":null,"axis":{"labels":false}},"y":{"field":"v","type":"nominal","scale":{"domain":["T min","T mean","T max"]},"title":null}},
   "layer":[
    {"data":{"name":"cells"},"transform":[{"filter":"datum.c==='Wet'&&datum.e==='3,900 m'"}],"mark":"rect","encoding":{"color":{"field":"r","type":"quantitative","scale":{"domain":[-0.6,0,0.6],"range":["#0000ff","#ffffff","#ff0000"],"interpolate":"lab"},"legend":null}}},
    {"data":{"name":"stars"},"transform":[{"filter":"datum.c==='Wet'&&datum.e==='3,900 m'"}],"mark":{"type":"text","text":"*","font":"Liberation Sans","fontSize":24,"color":"#000","dy":4}}]}
 ],"spacing":0,"bounds":"flush","resolve":{"scale":{"color":"independent"}},
 "title":{"text":"(b)","anchor":"start","frame":"group","fontWeight":"bold","offset":0,"dy":25}},
 {"vconcat":[
  {"width":467,"height":23,"data":{"name":"strips"},"transform":[{"filter":"datum.c==='Wet'&&datum.e==='3,600 m'"}],"mark":{"type":"text","font":"Liberation Serif","fontSize":21,"color":"#1a1a1a"},"encoding":{"text":{"field":"e"}},"view":{"stroke":"#666","fill":"white"}},
  {"width":467,"height":106,
   "encoding":{"x":{"field":"m","type":"nominal","scale":{"domain":["pAug","pSep","pOct","pNov","pDec","Jan","Feb","Mar","Apr","May","Jun","Jul","Aug","Sep","Oct"]},"title":null,"axis":{"labels":false}},"y":{"field":"v","type":"nominal","scale":{"domain":["T min","T mean","T max"]},"title":null}},
   "layer":[
    {"data":{"name":"cells"},"transform":[{"filter":"datum.c==='Wet'&&datum.e==='3,600 m'"}],"mark":"rect","encoding":{"color":{"field":"r","type":"quantitative","scale":{"domain":[-0.6,0,0.6],"range":["#0000ff","#ffffff","#ff0000"],"interpolate":"lab"},"legend":null}}},
    {"data":{"name":"stars"},"transform":[{"filter":"datum.c==='Wet'&&datum.e==='3,600 m'"}],"mark":{"type":"text","text":"*","font":"Liberation Sans","fontSize":24,"color":"#000","dy":4}}]}
 ],"spacing":0,"bounds":"flush","resolve":{"scale":{"color":"independent"}}},
 {"vconcat":[
  {"width":467,"height":23,"data":{"name":"strips"},"transform":[{"filter":"datum.c==='Wet'&&datum.e==='3,300 m'"}],"mark":{"type":"text","font":"Liberation Serif","fontSize":21,"color":"#1a1a1a"},"encoding":{"text":{"field":"e"}},"view":{"stroke":"#666","fill":"white"}},
  {"width":467,"height":106,
   "encoding":{"x":{"field":"m","type":"nominal","scale":{"domain":["pAug","pSep","pOct","pNov","pDec","Jan","Feb","Mar","Apr","May","Jun","Jul","Aug","Sep","Oct"]},"title":null,"axis":{"labels":false}},"y":{"field":"v","type":"nominal","scale":{"domain":["T min","T mean","T max"]},"title":null}},
   "layer":[
    {"data":{"name":"cells"},"transform":[{"filter":"datum.c==='Wet'&&datum.e==='3,300 m'"}],"mark":"rect","encoding":{"color":{"field":"r","type":"quantitative","scale":{"domain":[-0.6,0,0.6],"range":["#0000ff","#ffffff","#ff0000"],"interpolate":"lab"},"legend":null}}},
    {"data":{"name":"stars"},"transform":[{"filter":"datum.c==='Wet'&&datum.e==='3,300 m'"}],"mark":{"type":"text","text":"*","font":"Liberation Sans","fontSize":24,"color":"#000","dy":4}}]}
 ],"spacing":0,"bounds":"flush","resolve":{"scale":{"color":"independent"}}},
 {"vconcat":[
  {"width":467,"height":23,"data":{"name":"strips"},"transform":[{"filter":"datum.c==='Wet'&&datum.e==='3,000 m'"}],"mark":{"type":"text","font":"Liberation Serif","fontSize":21,"color":"#1a1a1a"},"encoding":{"text":{"field":"e"}},"view":{"stroke":"#666","fill":"white"}},
  {"width":467,"height":106,
   "encoding":{"x":{"field":"m","type":"nominal","scale":{"domain":["pAug","pSep","pOct","pNov","pDec","Jan","Feb","Mar","Apr","May","Jun","Jul","Aug","Sep","Oct"]},"title":null,"axis":{"labels":false}},"y":{"field":"v","type":"nominal","scale":{"domain":["T min","T mean","T max"]},"title":null}},
   "layer":[
    {"data":{"name":"cells"},"transform":[{"filter":"datum.c==='Wet'&&datum.e==='3,000 m'"}],"mark":"rect","encoding":{"color":{"field":"r","type":"quantitative","scale":{"domain":[-0.6,0,0.6],"range":["#0000ff","#ffffff","#ff0000"],"interpolate":"lab"},"legend":null}}},
    {"data":{"name":"stars"},"transform":[{"filter":"datum.c==='Wet'&&datum.e==='3,000 m'"}],"mark":{"type":"text","text":"*","font":"Liberation Sans","fontSize":24,"color":"#000","dy":4}}]}
 ],"spacing":0,"bounds":"flush","resolve":{"scale":{"color":"independent"}}},
 {"vconcat":[
  {"width":467,"height":23,"data":{"name":"strips"},"transform":[{"filter":"datum.c==='Wet'&&datum.e==='2,800 m'"}],"mark":{"type":"text","font":"Liberation Serif","fontSize":21,"color":"#1a1a1a"},"encoding":{"text":{"field":"e"}},"view":{"stroke":"#666","fill":"white"}},
  {"width":467,"height":106,
   "encoding":{"x":{"field":"m","type":"nominal","scale":{"domain":["pAug","pSep","pOct","pNov","pDec","Jan","Feb","Mar","Apr","May","Jun","Jul","Aug","Sep","Oct"]},"title":null,"axis":{"labelAngle":-90}},"y":{"field":"v","type":"nominal","scale":{"domain":["T min","T mean","T max"]},"title":null}},
   "layer":[
    {"data":{"name":"cells"},"transform":[{"filter":"datum.c==='Wet'&&datum.e==='2,800 m'"}],"mark":"rect","encoding":{"color":{"field":"r","type":"quantitative","scale":{"domain":[-0.6,0,0.6],"range":["#0000ff","#ffffff","#ff0000"],"interpolate":"lab"},"legend":{"orient":"none","legendX":128,"legendY":196,"direction":"horizontal","gradientLength":213,"gradientThickness":18,"title":null,"values":[-0.3,0,0.3],"format":".1f","labelFont":"Liberation Serif","labelFontSize":22,"labelColor":"#000","labelOffset":1,"gradientStrokeWidth":0}}}},
    {"data":{"name":"stars"},"transform":[{"filter":"datum.c==='Wet'&&datum.e==='2,800 m'"}],"mark":{"type":"text","text":"*","font":"Liberation Sans","fontSize":24,"color":"#000","dy":4}}]}
 ],"spacing":0,"bounds":"flush","resolve":{"scale":{"color":"independent"}}}
],"spacing":0,"resolve":{"scale":{"color":"independent"}}}
],
"spacing":30,
"resolve":{"scale":{"color":"independent"}},
"config":{
 "view":{"stroke":"#1a1a1a","strokeWidth":1},
 "axis":{"labelFont":"Liberation Serif","labelFontSize":20,"labelColor":"#4d4d4d","tickColor":"#1a1a1a","tickWidth":1.5,"domainColor":"#000","domainWidth":2,"grid":false},
 "axisX":{"tickSize":5,"labelPadding":2},
 "axisY":{"tickSize":7,"labelPadding":3},
 "title":{"font":"Liberation Sans","fontSize":25,"color":"#000"}
}
}
